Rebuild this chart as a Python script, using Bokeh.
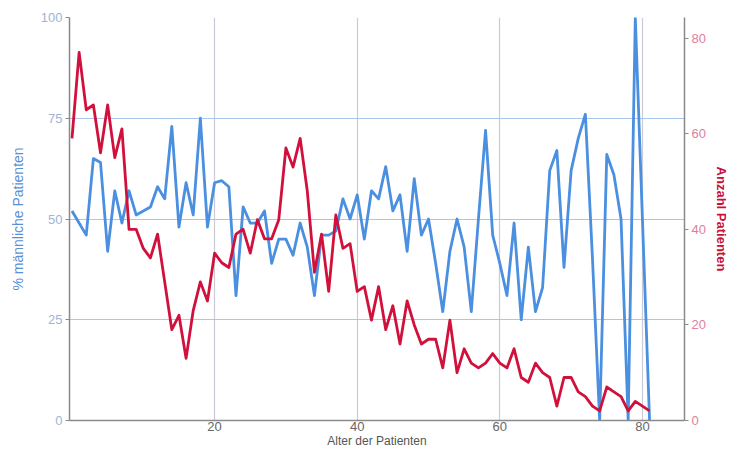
from bokeh.plotting import figure
from bokeh.models import Range1d, LinearAxis, FixedTicker
from bokeh.embed import file_html
from bokeh.resources import INLINE

ages = list(range(0, 82))

pct_male = [52, 49, 46, 65, 64, 42, 57, 49, 57, 51,
            52, 53, 58, 55, 73, 48, 59, 51, 75, 48,
            59, 59.5, 58, 31, 53, 49, 49, 52, 39, 45,
            45, 41, 49, 43, 31, 46, 46, 47, 55, 50,
            56, 45, 57, 55, 63, 52, 56, 42, 60, 46,
            50, 39, 27, 42, 50, 43, 27, 50, 72, 46,
            39, 31, 49, 25, 43, 27, 33, 62, 67, 38,
            62, 70, 76, 40, 0, 66, 61, 50, 0, 100,
            50, 0]

n_patients = [59, 77, 65, 66, 56, 66, 55, 61, 40, 40,
              36, 34, 39, 29, 19, 22, 13, 23, 29, 25,
              35, 33, 32, 39, 40, 35, 42, 38, 38, 42,
              57, 53, 59, 48, 31, 39, 27, 43, 36, 37,
              27, 28, 21, 28, 19, 24, 16, 25, 20, 16,
              17, 17, 11, 21, 10, 15, 12, 11, 12, 14,
              12, 11, 15, 9, 8, 12, 10, 9, 3, 9,
              9, 6, 5, 3, 2, 7, 6, 5, 2, 4,
              3, 2]

x_ticks = [20, 40, 60, 80]
left_ticks = [0, 25, 50, 75, 100]
right_ticks = [0, 20, 40, 60, 80]

FONT = "Liberation Sans"
BLUE = "#4A8FE0"
RED = "#D2103C"

p = figure(width=731, height=450, output_backend="svg", toolbar_location=None,
           x_range=Range1d(-0.35, 85.9), y_range=Range1d(0, 100),
           min_border_left=69, min_border_right=30, min_border_top=17,
           min_border_bottom=20)
p.extra_y_ranges = {"count": Range1d(0, 84.3)}
p.outline_line_color = None
p.background_fill_color = "white"
p.border_fill_color = "white"

# grids
p.ygrid.ticker = FixedTicker(ticks=[25, 50, 75, 100])
p.ygrid.grid_line_color = "#A9C6EC"
p.ygrid.grid_line_width = 1.2
p.xgrid.ticker = FixedTicker(ticks=x_ticks)
p.xgrid.grid_line_color = "#C9CCD4"
p.xgrid.grid_line_width = 1.2

# left axis
la = p.yaxis[0]
la.ticker = FixedTicker(ticks=left_ticks)
la.axis_label = "% männliche Patienten"
la.axis_label_text_font = FONT
la.axis_label_text_font_size = "14px"
la.axis_label_text_font_style = "normal"
la.axis_label_text_color = "#5A8FD8"
la.axis_label_standoff = 12
la.major_label_text_font = FONT
la.major_label_text_font_size = "13px"
la.major_label_text_color = "#9DB4D6"
la.axis_line_color = "#8A8A8A"
la.axis_line_width = 1.5
la.major_tick_line_color = "#8A8A8A"
la.major_tick_out = 4
la.major_tick_in = 0
la.minor_tick_line_color = None
la.major_label_standoff = 3

# bottom axis
ba = p.xaxis[0]
ba.ticker = FixedTicker(ticks=x_ticks)
ba.axis_label = "Alter der Patienten"
ba.axis_label_text_font = FONT
ba.axis_label_text_font_size = "12px"
ba.axis_label_text_font_style = "normal"
ba.axis_label_text_color = "#555555"
ba.axis_label_standoff = 0
ba.major_label_text_font = FONT
ba.major_label_text_font_size = "13px"
ba.major_label_text_color = "#666666"
ba.axis_line_color = "#8A8A8A"
ba.axis_line_width = 1.5
ba.major_tick_line_color = None
ba.major_tick_out = 0
ba.major_tick_in = 0
ba.minor_tick_line_color = None
ba.major_label_standoff = 1

# right axis
ra = LinearAxis(y_range_name="count", ticker=FixedTicker(ticks=right_ticks))
ra.axis_label = "Anzahl Patienten"
ra.axis_label_text_font = FONT
ra.axis_label_text_font_size = "13px"
ra.axis_label_text_font_style = "bold"
ra.axis_label_text_color = "#C8103A"
ra.axis_label_standoff = 5
ra.major_label_text_font = FONT
ra.major_label_text_font_size = "13px"
ra.major_label_text_color = "#E0809A"
ra.axis_line_color = "#8A8A8A"
ra.axis_line_width = 1.5
ra.major_tick_line_color = "#8A8A8A"
ra.major_tick_out = 4
ra.major_tick_in = 0
ra.minor_tick_line_color = None
ra.major_label_standoff = 3
p.add_layout(ra, "right")

p.line(ages, pct_male, line_color=BLUE, line_width=2.8, line_join="round")
p.line(ages, n_patients, y_range_name="count", line_color=RED, line_width=2.8,
       line_join="round")

open("out.html", "w").write(file_html(p, INLINE))
